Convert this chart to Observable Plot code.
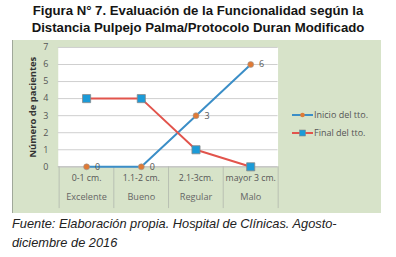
<!DOCTYPE html>
<html>
<head>
<meta charset="utf-8">
<script src="https://cdn.jsdelivr.net/npm/d3@7"></script>
<script src="https://cdn.jsdelivr.net/npm/@observablehq/plot@0.6"></script>
<style>
  html, body { margin: 0; padding: 0; background: #fff; }
  body { width: 396px; height: 257px; position: relative; overflow: hidden; font-family: "Liberation Sans", Arial, sans-serif; }
  #title { position: absolute; left: 0; top: 3px; width: 396px; text-align: center; font-weight: bold; font-size: 13.2px; line-height: 16.5px; color: #151515; }
  #chart { position: absolute; left: 12px; top: 40px; width: 369px; height: 173px; background: #d7e3c9; border-left: 1px solid #a0a89a; box-sizing: border-box; }
  #chart svg { position: absolute; left: -1px; top: 0; }
  #legend { position: absolute; left: 280px; top: 108px; font-family: "Open Sans", sans-serif; font-size: 9px; color: #555; }
  .li { position: absolute; left: 12px; white-space: nowrap; height: 14px; }
  .li svg { position: absolute; left: 0; top: 0; }
  .li span { position: absolute; left: 22px; top: 0px; line-height: 14px; }
  #caption { position: absolute; left: 12px; top: 214px; font-style: italic; font-size: 12.8px; line-height: 19px; color: #222; }
</style>
</head>
<body>
<div id="title">Figura N° 7. Evaluación de la Funcionalidad según la<br>Distancia Pulpejo Palma/Protocolo Duran Modificado</div>
<div id="chart"></div>
<div id="legend"></div>
<div id="caption">Fuente: Elaboración propia. Hospital de Clínicas. Agosto-<br>diciembre de 2016</div>
<script>
const categories = ["0-1 cm.", "1.1-2 cm.", "2.1-3cm.", "mayor 3 cm."];
const groups = ["Excelente", "Bueno", "Regular", "Malo"];
const inicio = [0, 0, 3, 6];
const final = [4, 4, 1, 0];
const seriesNames = ["Inicio del tto.", "Final del tto."];
const yTicks = [0, 1, 2, 3, 4, 5, 6, 7];
const yLabel = "Número de pacientes";

const colInicioLine = "#3b8ec7";
const colInicioDot = "#e07a35";
const colFinalLine = "#e2544c";
const colFinalDot = "#1b9bd8";

const dInicio = categories.map((c, i) => ({cat: c, v: inicio[i]}));
const dFinal = categories.map((c, i) => ({cat: c, v: final[i]}));
const dCats = categories.map((c, i) => ({cat: c, grp: groups[i]}));

const W = 370, H = 173;
const mL = 46, mR = W - 267, mT = 7, mB = 46;
const bw = (W - mL - mR) / categories.length;

const chart = Plot.plot({
  width: W,
  height: H,
  marginLeft: mL,
  marginRight: mR,
  marginTop: mT,
  marginBottom: mB,
  style: {background: "transparent", fontFamily: "'Open Sans', sans-serif", fontSize: "8.5px", color: "#555"},
  x: {type: "band", domain: categories, padding: 0, axis: null},
  y: {domain: [0, 7], axis: null},
  marks: [
    Plot.frame({fill: "white", stroke: null}),
    Plot.gridY(yTicks, {stroke: "#cfcfcf", strokeOpacity: 1}),
    Plot.ruleY([0], {stroke: "#bdbdbd"}),
    Plot.axisY(yTicks, {tickSize: 0, tickPadding: 10, fontSize: 9, fill: "#555", label: null}),
    Plot.text([yLabel], {frameAnchor: "left", textAnchor: "middle", dx: -25, rotate: -90, fontWeight: "bold", fontSize: 9.5, fill: "#333"}),
    Plot.ruleX(categories, {x: d => d, dx: -bw / 2, y1: 0, y2: -2.45, stroke: "#b8bfb2"}),
    Plot.ruleX(categories.slice(-1), {x: d => d, dx: bw / 2, y1: 0, y2: -2.45, stroke: "#b8bfb2"}),
    Plot.text(dCats, {x: "cat", text: "cat", frameAnchor: "bottom", dy: 14, fill: "#555", fontSize: 8.8}),
    Plot.text(dCats, {x: "cat", text: "grp", frameAnchor: "bottom", dy: 33, fill: "#666", fontSize: 9.2}),
    Plot.line(dInicio, {x: "cat", y: "v", stroke: colInicioLine, strokeWidth: 2}),
    Plot.dot(dInicio, {x: "cat", y: "v", r: 3, fill: colInicioDot, stroke: "#999", strokeWidth: 0.6}),
    Plot.text(dInicio, {x: "cat", y: "v", text: d => String(d.v), dx: 11, fill: "#555", fontSize: 9}),
    Plot.line(dFinal, {x: "cat", y: "v", stroke: colFinalLine, strokeWidth: 2}),
    Plot.dot(dFinal, {x: "cat", y: "v", symbol: "square", r: 4.6, fill: colFinalDot, stroke: "#888", strokeWidth: 0.8})
  ]
});
document.getElementById("chart").appendChild(chart);

const legend = document.getElementById("legend");
const swatches = [
  {line: colInicioLine, dot: colInicioDot, shape: "circle"},
  {line: colFinalLine, dot: colFinalDot, shape: "square"}
];
seriesNames.forEach((name, i) => {
  const el = document.createElement("div");
  el.className = "li";
  el.style.top = (i * 18) + "px";
  const s = swatches[i];
  const mark = s.shape === "circle"
    ? `<circle cx="10.5" cy="7" r="2.3" fill="${s.dot}"/>`
    : `<rect x="7.5" y="4" width="6" height="6" fill="${s.dot}" stroke="#888" stroke-width="0.6"/>`;
  el.innerHTML = `<svg width="22" height="14"><line x1="0" x2="21" y1="7" y2="7" stroke="${s.line}" stroke-width="2"/>${mark}</svg><span>${name}</span>`;
  legend.appendChild(el);
});
</script>
</body>
</html>
